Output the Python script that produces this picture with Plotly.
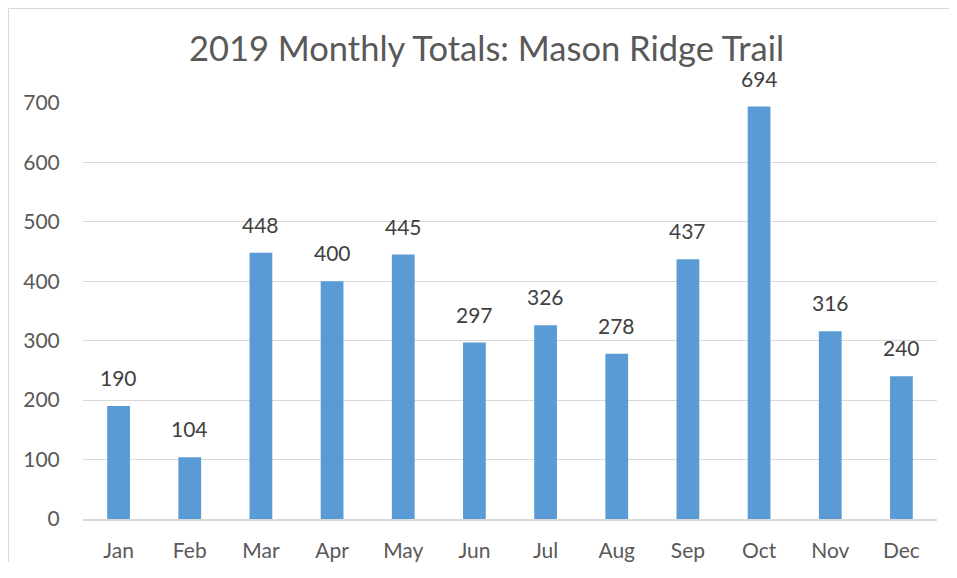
import plotly.graph_objects as go

months = ["Jan", "Feb", "Mar", "Apr", "May", "Jun", "Jul", "Aug", "Sep", "Oct", "Nov", "Dec"]
totals = [190, 104, 448, 400, 445, 297, 326, 278, 437, 694, 316, 240]
y_ticks = [0, 100, 200, 300, 400, 500, 600, 700]
title_text = "2019 Monthly Totals: Mason Ridge Trail"

FONT = "Lato, Carlito, Calibri, sans-serif"
TXT = "#595959"

# page body has an 8px margin; figure placed at (8, 8); keep it small enough to avoid scrollbars
W, H = 941, 554
L, R, T, B = 75, 12, 95, 43
PW, PH = W - L - R, H - T - B

fig = go.Figure()
fig.add_trace(go.Bar(
    x=months, y=totals,
    marker=dict(color="#5B9BD5", line=dict(width=0)),
    cliponaxis=False,
    hoverinfo="x+y",
))

for m, v in zip(months, totals):
    fig.add_annotation(x=m, y=v, text=str(v), showarrow=False,
                       yanchor="bottom", yshift=14,
                       font=dict(family=FONT, size=21, color="#404040"))

# chart-area border (left and top edges visible in the reference)
bx = (0.5 - L) / PW
by = (PH + T - 0.5) / PH
fig.add_shape(type="line", xref="paper", yref="paper", x0=bx, x1=bx, y0=-0.3, y1=by,
              line=dict(color="#D9D9D9", width=1), layer="below")
fig.add_shape(type="line", xref="paper", yref="paper", x0=bx, x1=(W - L + 5) / PW, y0=by, y1=by,
              line=dict(color="#D9D9D9", width=1), layer="below")

fig.update_layout(
    width=W, height=H,
    margin=dict(l=L, r=R, t=T, b=B),
    paper_bgcolor="white", plot_bgcolor="white",
    bargap=0.68,
    showlegend=False,
    title=dict(text=title_text, x=478.5 / W, xanchor="center", y=1 - 40.5 / H, yanchor="middle",
               font=dict(family=FONT, size=34.5, color=TXT)),
    font=dict(family=FONT, color=TXT),
    xaxis=dict(showgrid=False, showline=True, linecolor="#D9D9D9", linewidth=2,
               ticks="outside", ticklen=12, tickcolor="rgba(0,0,0,0)", automargin=False,
               tickfont=dict(family=FONT, size=21, color=TXT), fixedrange=True),
    yaxis=dict(range=[0, 700], tickvals=y_ticks, showgrid=True, gridcolor="#D9D9D9", gridwidth=1,
               zeroline=False, showline=False, automargin=False,
               ticks="outside", ticklen=18, tickcolor="rgba(0,0,0,0)",
               tickfont=dict(family=FONT, size=21, color=TXT), fixedrange=True),
)

fig.write_html("out.html")
